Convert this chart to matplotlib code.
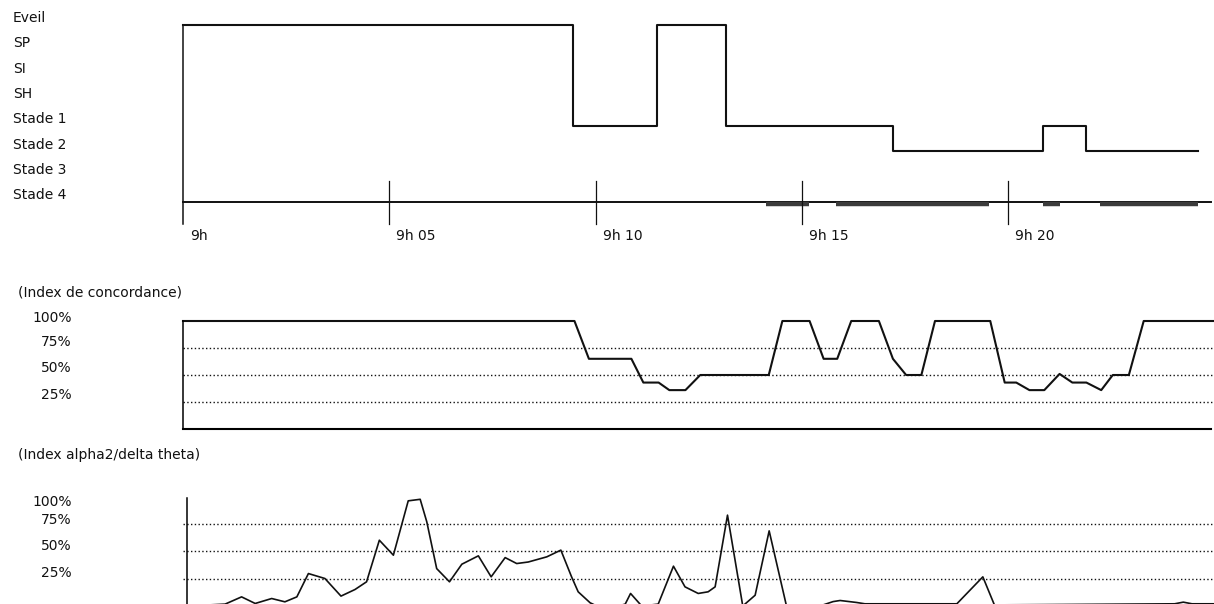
import matplotlib.pyplot as plt
import matplotlib.transforms as mtransforms

# --- data -------------------------------------------------------------
stage_names = ["Stade 4", "Stade 3", "Stade 2", "Stade 1", "SH", "SI", "SP", "Eveil"]

# hypnogram: change times (minutes after 9h) and stage index
hyp_t = [0, 9.45, 11.48, 13.16, 17.20, 20.84, 21.88, 24.61]
hyp_s = [7, 3, 7, 3, 2, 3, 2, 2]

# dark marks under the time axis (start, end in minutes)
mark_start = [14.13, 15.82, 20.84, 22.23]
mark_end = [15.18, 19.54, 21.26, 24.61]

tick_min = [0, 5, 10, 15, 20]
tick_lab = ["9h", "9h 05", "9h 10", "9h 15", "9h 20"]

# index de concordance (%)
conc_t = [0, 9.49, 9.84, 10.87, 11.16, 11.53, 11.79, 12.18, 12.54, 14.20,
          14.53, 15.19, 15.53, 15.86, 16.20, 16.87, 17.21, 17.53, 17.90,
          18.23, 19.57, 19.92, 20.20, 20.52, 20.88, 21.25, 21.56, 21.90,
          22.26, 22.54, 22.93, 23.29, 25.0]
conc_v = [100, 100, 65, 65, 43, 43, 36, 36, 50, 50,
          100, 100, 65, 65, 100, 100, 65, 50, 50,
          100, 100, 43, 43, 36, 36, 51, 43, 43,
          36, 50, 50, 100, 100]

# index alpha2 / delta theta (%)
alpha_t = [0.10, 1.02, 1.42, 1.75, 2.15, 2.47, 2.76, 3.04, 3.44, 3.83,
           4.17, 4.45, 4.76, 5.10, 5.46, 5.75, 5.91, 6.15, 6.46, 6.76,
           7.16, 7.47, 7.81, 8.09, 8.37, 8.82, 9.16, 9.42, 9.58, 9.87,
           10.03, 10.55, 10.72, 10.85, 11.12, 11.52, 11.89, 12.17, 12.49, 12.73,
           12.90, 13.20, 13.57, 13.87, 14.21, 14.63, 15.44, 15.76, 15.93, 16.33,
           16.53, 18.76, 19.39, 19.67, 24.04, 24.25, 24.46, 25.0]
alpha_v = [0, 1.7, 8.3, 2.3, 6.8, 3.8, 8.3, 29.5, 25, 9,
           15, 22, 59.8, 46.2, 95.6, 97, 76.5, 34, 22, 38,
           45.6, 26.5, 44, 38.6, 40, 44.7, 50.8, 26.5, 12.9, 2.9,
           0, 0, 1.7, 11.4, 0, 1.7, 36.2, 17.4, 11.4, 12.9,
           17.4, 82.6, 0, 9.8, 68.3, 0, 0, 4, 5, 3.2,
           2, 2, 26.5, 1, 2, 3.5, 2, 2]

pct_lab = ["100%", "75%", "50%", "25%"]

# --- layout (pixels) --------------------------------------------------
W, H = 1214, 604
PX_MIN = 41.25
X0 = 183


def box(l, t, r, b):
    return [l / W, 1 - b / H, (r - l) / W, (b - t) / H]


def ftext(x, y, s, **kw):
    fig.text(x / W, 1 - y / H, s, **kw)


plt.rcParams['font.family'] = ['DejaVu Sans']
FS = 10
INK = '#111111'

fig = plt.figure(figsize=(W / 100, H / 100), dpi=100)
fig.patch.set_facecolor('white')

# --- hypnogram --------------------------------------------------------
ax1 = fig.add_axes(box(X0, 25, X0 + 25 * PX_MIN, 202))
ax1.set_xlim(0, 25)
ax1.set_ylim(0, 7)
ax1.axis('off')

ax1.step(hyp_t, hyp_s, where='post', color=INK, lw=1.5, clip_on=False)
ax1.plot([0, 0], [-0.87, hyp_s[0]], color=INK, lw=1.1, clip_on=False)
ax1.plot([0, 24.92], [0, 0], color=INK, lw=1.4, clip_on=False)
ax1.hlines([-0.08] * len(mark_start), mark_start, mark_end,
           color='#3c3c3c', lw=3.2, clip_on=False)
for t in tick_min[1:]:
    ax1.plot([t, t], [-0.87, 0.83], color=INK, lw=0.9, clip_on=False)
for t, lab in zip(tick_min, tick_lab):
    ax1.text(t + 0.17, -1.36, lab, fontsize=FS, color=INK, va='center', ha='left')

tr = mtransforms.blended_transform_factory(fig.transFigure, ax1.transData)
for i, name in enumerate(stage_names):
    fig.text(13 / W, i + 0.27, name, transform=tr, fontsize=FS, color=INK,
             va='center', ha='left')

# --- index de concordance --------------------------------------------
ax2 = fig.add_axes(box(X0, 321, X0 + 25 * PX_MIN, 429))
ax2.set_xlim(0, 25)
ax2.set_ylim(0, 100)
for sp in ['top', 'right']:
    ax2.spines[sp].set_visible(False)
ax2.spines['left'].set_linewidth(1.1)
ax2.spines['bottom'].set_linewidth(1.5)
ax2.spines['bottom'].set_bounds(0, 24.92)
ax2.set_xticks([])
ax2.set_yticks([])
for g in [25, 50, 75]:
    ax2.axhline(g, color=INK, lw=1.0, ls=(0, (1, 1.7)))
ax2.plot(conc_t, conc_v, color=INK, lw=1.5, clip_on=False)

ftext(18, 293, "(Index de concordance)", fontsize=FS, color=INK, va='center')
for y, lab in zip([318, 342, 368, 395], pct_lab):
    ftext(72, y, lab, fontsize=FS, color=INK, va='center', ha='right')

# --- index alpha2/delta theta ----------------------------------------
ax3 = fig.add_axes(box(X0, 496, X0 + 25 * PX_MIN, 606))
ax3.set_xlim(0, 25)
ax3.set_ylim(0, 100)
for sp in ['top', 'right', 'bottom']:
    ax3.spines[sp].set_visible(False)
ax3.spines['left'].set_linewidth(1.1)
ax3.spines['left'].set_position(('data', 0.1))
ax3.spines['left'].set_bounds(0, 98)
ax3.set_xticks([])
ax3.set_yticks([])
for g in [25, 50, 75]:
    ax3.axhline(g, color=INK, lw=1.0, ls=(0, (1, 1.7)))
ax3.plot(alpha_t, alpha_v, color=INK, lw=1.2, clip_on=False)

ftext(18, 455, "(Index alpha2/delta theta)", fontsize=FS, color=INK, va='center')
for y, lab in zip([502, 520, 546, 573], pct_lab):
    ftext(72, y, lab, fontsize=FS, color=INK, va='center', ha='right')

fig.savefig('out.png', dpi=100, facecolor='white')
